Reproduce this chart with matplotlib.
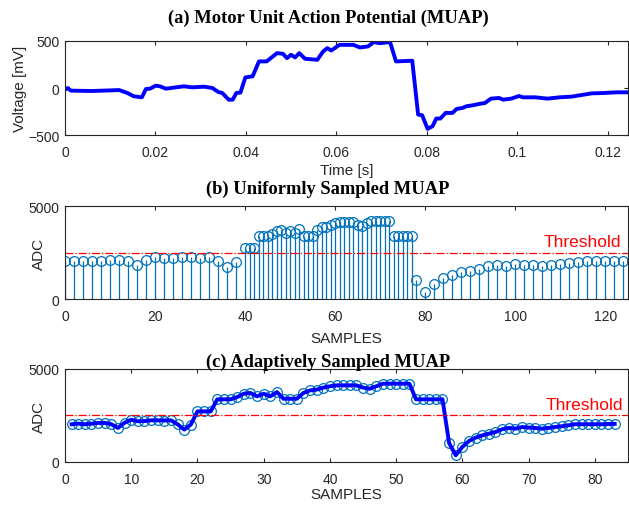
import matplotlib
matplotlib.use("Agg")
import matplotlib.pyplot as plt
import numpy as np

# (a) MUAP trace
time_ms = [0, 0.6, 1.3, 6, 12, 13.8, 15.2, 17, 17.9, 18.8, 20.1, 21, 22.3, 26.3, 28.1,
           30.8, 32.6, 33.9, 34.8, 36.2, 37.1, 37.9, 38.8, 39.9, 41.5, 42.9, 44.6,
           46.9, 48.2, 49.1, 50, 50.9, 51.8, 53.1, 55.8, 57.1, 58, 58.9, 60.7, 63.8,
           65.2, 67, 68.3, 69.6, 71.9, 73.2, 76.8, 78.1, 79, 80.2, 81.3, 82.1, 83,
           84.2, 85.7, 86.6, 87.9, 88.8, 90.2, 91.5, 92.9, 94.2, 96, 96.9, 98.7,
           100.4, 101.3, 104, 106.7, 109.4, 112, 113.8, 116.5, 119.2, 121.9, 124.6]
volt_mv = [-18, 0, -28, -32, -22, -53, -88, -99, -11, -7, 25, 18, -7, 18, 7,
           14, 0, -42, -53, -124, -124, -53, -49, 113, 124, 283, 283,
           371, 364, 318, 353, 325, 371, 311, 300, 389, 424, 399, 459, 459,
           431, 442, 488, 477, 488, 283, 290, -283, -290, -435, -406, -325, -325,
           -265, -265, -223, -212, -194, -184, -170, -159, -113, -106, -124, -113,
           -85, -99, -99, -113, -99, -92, -78, -57, -53, -46, -46]

# (b) sample positions and ADC codes
samples_b = (list(range(0, 40, 2)) + list(range(40, 79)) + list(range(80, 129, 2)))
adc = [2060, 2030, 2060, 2030, 2060, 2100, 2100, 2030, 1830, 2110,
       2270, 2190, 2200, 2240, 2240, 2230, 2240, 2030, 1740, 2010,
       2720, 2720, 2720, 3370, 3370, 3370, 3490, 3670, 3710, 3530,
       3670, 3530, 3760, 3400, 3400, 3400, 3710, 3850, 3890, 4000,
       4070, 4120, 4120, 4120, 4120, 4000, 3940, 4070, 4210, 4210,
       4210, 4210, 4210, 3370, 3370, 3370, 3370, 3370, 1020,
       360, 810, 1130, 1310, 1430, 1520, 1610, 1760, 1830, 1790,
       1880, 1850, 1830, 1790, 1830, 1880, 1920, 1970, 2030, 2030,
       2030, 2030, 2030, 2040, 2050]

# (c) adaptive samples shown as index 1..83
adc_c = adc[1:]
samples_c = list(range(1, len(adc_c) + 1))

threshold = 2500

plt.rcParams['font.family'] = 'Liberation Sans'
plt.rcParams['font.size'] = 10
dark = '#262626'
mblue = '#0072BD'
title_font = dict(family='Liberation Serif', fontweight='bold', fontsize=13.3)
title_x = 328 / 629

fig = plt.figure(figsize=(6.29, 5.06), dpi=100)
ax1 = fig.add_axes([0.1033, 0.7312, 0.895, 0.1858])
ax2 = fig.add_axes([0.1033, 0.4071, 0.895, 0.1838])
ax3 = fig.add_axes([0.1033, 0.0850, 0.895, 0.1838])

for ax in (ax1, ax2, ax3):
    ax.tick_params(direction='in', length=3, top=True, right=True,
                   colors=dark, labelsize=10)
    ax.tick_params(axis='x', pad=7)
    ax.tick_params(axis='y', pad=4)
    for s in ax.spines.values():
        s.set_color(dark)
        s.set_linewidth(0.8)

# (a)
ax1.plot(np.array(time_ms) / 1000, volt_mv, color='blue', lw=2.8)
ax1.set_xlim(0, 0.1245)
ax1.set_ylim(-500, 500)
ax1.set_xticks([0, 0.02, 0.04, 0.06, 0.08, 0.1, 0.12])
ax1.set_xticklabels(['0', '0.02', '0.04', '0.06', '0.08', '0.1', '0.12'])
ax1.set_yticks([-500, 0, 500])
ax1.set_xlabel('Time [s]', color=dark, fontsize=11, labelpad=3)
ax1.set_ylabel('Voltage [mV]', color=dark, fontsize=11)
ax1.yaxis.set_label_coords(-0.0675, 0.5)
fig.text(title_x, 1 - 18 / 506, '(a) Motor Unit Action Potential (MUAP)',
         ha='center', va='center', **title_font)

# (b)
ax2.vlines(samples_b, 0, adc, color=mblue, lw=0.9)
ax2.plot(samples_b, adc, 'o', mfc='none', mec=mblue, ms=7, mew=0.9)
ax2.axhline(threshold, color='red', ls='-.', lw=0.9)
ax2.text(123.5, 2700, 'Threshold', color='red', fontsize=12.5, ha='right', va='bottom')
ax2.set_xlim(0, 125)
ax2.set_ylim(0, 5000)
ax2.set_xticks(range(0, 121, 20))
ax2.set_yticks([0, 5000])
ax2.set_xlabel('SAMPLES', color=dark, fontsize=11, labelpad=6)
ax2.set_ylabel('ADC', color=dark, fontsize=11)
ax2.yaxis.set_label_coords(-0.034, 0.5)
fig.text(title_x, 1 - 189.5 / 506, '(b) Uniformly Sampled MUAP',
         ha='center', va='center', **title_font)

# (c)
ax3.plot(samples_c, adc_c, 'o', mfc='none', mec=mblue, ms=7, mew=0.9)
ax3.plot(samples_c, adc_c, color='blue', lw=2.8)
ax3.axhline(threshold, color='red', ls='-.', lw=0.9)
ax3.text(84.3, 2700, 'Threshold', color='red', fontsize=12.5, ha='right', va='bottom')
ax3.set_xlim(0, 85)
ax3.set_ylim(0, 5000)
ax3.set_xticks(range(0, 81, 10))
ax3.set_yticks([0, 5000])
ax3.set_xlabel('SAMPLES', color=dark, fontsize=11, labelpad=1)
ax3.set_ylabel('ADC', color=dark, fontsize=11)
ax3.yaxis.set_label_coords(-0.034, 0.5)
fig.text(title_x, 1 - 362 / 506, '(c) Adaptively Sampled MUAP',
         ha='center', va='center', **title_font)

fig.savefig('out.png', dpi=100)
